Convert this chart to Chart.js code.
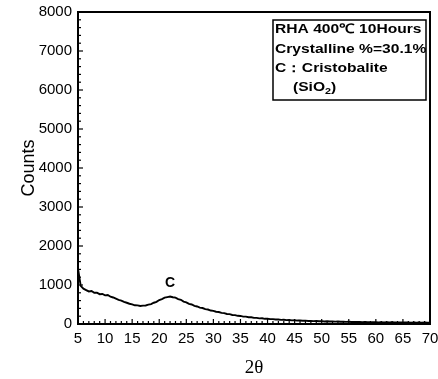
<!DOCTYPE html>
<html><head><meta charset="utf-8">
<script src="https://cdn.jsdelivr.net/npm/chart.js@4"></script>
<style>html,body{margin:0;padding:0;background:#fff}#wrap{width:438px;height:379px}</style>
</head><body><div id="wrap"><canvas id="c" width="438" height="379"></canvas></div>
<script>
const twoTheta = [5,5.5,6,6.5,7,7.5,8,8.5,9,9.5,10,10.5,11,11.5,12,12.5,13,13.5,14,14.5,15,15.5,16,16.5,17,17.5,18,18.5,19,19.5,20,20.5,21,21.5,22,22.5,23,23.5,24,24.5,25,25.5,26,26.5,27,27.5,28,28.5,29,29.5,30,30.5,31,31.5,32,32.5,33,33.5,34,34.5,35,35.5,36,36.5,37,37.5,38,38.5,39,39.5,40,40.5,41,41.5,42,42.5,43,43.5,44,44.5,45,45.5,46,46.5,47,47.5,48,48.5,49,49.5,50,50.5,51,51.5,52,52.5,53,53.5,54,54.5,55,55.5,56,56.5,57,57.5,58,58.5,59,59.5,60,60.5,61,61.5,62,62.5,63,63.5,64,64.5,65,65.5,66,66.5,67,67.5,68,68.5,69,69.5,70];
const counts = [1420,980,905,870,835,845,800,805,765,770,735,745,700,680,650,620,600,565,545,520,505,480,478,462,470,475,495,510,545,570,615,640,675,690,705,685,675,640,620,575,555,515,500,465,450,420,410,380,372,345,338,315,308,285,278,258,252,232,228,210,207,190,188,172,172,158,158,145,146,133,135,124,126,115,117,107,110,100,103,94,97,88,91,83,86,78,81,74,77,70,73,66,70,63,66,60,63,57,60,54,58,52,55,50,53,48,51,46,49,44,47,42,46,41,44,40,43,39,42,38,41,37,40,36,39,35,38,34,37,33,36];
const xTickLabels = [5,10,15,20,25,30,35,40,45,50,55,60,65,70];
const yTickLabels = [0,1000,2000,3000,4000,5000,6000,7000,8000];
const peakLabels = [{x:22, y:1050, text:'C'}];
const infoLines = ['RHA 400℃ 10Hours','Crystalline %=30.1%','C：Cristobalite'];
const formulaParts = ['(SiO','2',')'];

const points = twoTheta.map((t,i)=>({x:t, y:counts[i]}));

const decor = {
  id:'decor',
  afterDatasetsDraw(chart){
    const {ctx, chartArea:a, scales:{x,y}} = chart;
    ctx.save();
    ctx.strokeStyle='#000';
    ctx.lineWidth=1.2;
    for (let v=x.min; v<=x.max+1e-9; v+=1){
      const px=x.getPixelForValue(v);
      const len = (Math.round(v)%5===0)?5:3;
      ctx.beginPath(); ctx.moveTo(px,a.bottom); ctx.lineTo(px,a.bottom-len); ctx.stroke();
    }
    for (let v=y.min; v<=y.max+1e-9; v+=200){
      const py=y.getPixelForValue(v);
      const len = (Math.round(v)%1000===0)?5:3;
      ctx.beginPath(); ctx.moveTo(a.left,py); ctx.lineTo(a.left+len,py); ctx.stroke();
    }
    ctx.lineWidth=2;
    ctx.strokeRect(a.left,a.top,a.right-a.left,a.bottom-a.top);
    ctx.fillStyle='#000';
    ctx.font='bold 14px "Liberation Sans", Arial, sans-serif';
    ctx.textAlign='center'; ctx.textBaseline='middle';
    peakLabels.forEach(p=>ctx.fillText(p.text, x.getPixelForValue(p.x), y.getPixelForValue(p.y)));
    const bl=a.right-157, br=a.right-4, bt=a.top+8, bb=a.top+88;
    ctx.lineWidth=1.5;
    ctx.strokeRect(bl,bt,br-bl,bb-bt);
    ctx.textAlign='left'; ctx.textBaseline='alphabetic';
    const sx=1.2;
    const base=[21,41,60,79];
    infoLines.forEach((t,i)=>{
      ctx.save(); ctx.translate(bl+2, a.top+base[i]); ctx.scale(sx,1);
      ctx.font='bold 13px "Liberation Sans", Arial, sans-serif';
      ctx.fillText(t,0,0); ctx.restore();
    });
    ctx.save(); ctx.translate(bl+20, a.top+base[3]); ctx.scale(sx,1);
    ctx.font='bold 13px "Liberation Sans", Arial, sans-serif';
    let w=ctx.measureText(formulaParts[0]).width;
    ctx.fillText(formulaParts[0],0,0);
    ctx.font='bold 9px "Liberation Sans", Arial, sans-serif';
    ctx.fillText(formulaParts[1],w,3);
    w+=ctx.measureText(formulaParts[1]).width;
    ctx.font='bold 13px "Liberation Sans", Arial, sans-serif';
    ctx.fillText(formulaParts[2],w,0);
    ctx.restore();
    ctx.restore();
  }
};

new Chart(document.getElementById('c'),{
  type:'line',
  data:{datasets:[{data:points, borderColor:'#000', borderWidth:1.9, pointRadius:0, tension:0, fill:false}]},
  options:{
    responsive:false, animation:false,
    layout:{padding:{top:12,right:8,left:0,bottom:0}},
    plugins:{legend:{display:false}, tooltip:{enabled:false}},
    scales:{
      x:{type:'linear', min:5, max:70,
        afterBuildTicks(s){ s.ticks = xTickLabels.map(v=>({value:v})); },
        afterFit(s){ s.height=55; s.paddingLeft=0; s.paddingRight=0; },
        grid:{display:false, drawTicks:false}, border:{display:false},
        ticks:{color:'#000', padding:6, maxRotation:0, autoSkip:false, callback:v=>String(v), font:{family:'"Liberation Sans", Arial', size:15}},
        title:{display:true, text:'2θ', color:'#000', padding:{top:0,bottom:0}, font:{family:'"Liberation Serif", "Times New Roman", serif', size:19}}
      },
      y:{type:'linear', min:0, max:8000,
        afterBuildTicks(s){ s.ticks = yTickLabels.map(v=>({value:v})); },
        afterFit(s){ s.width=78; s.paddingTop=0; s.paddingBottom=0; },
        grid:{display:false, drawTicks:false}, border:{display:false},
        ticks:{color:'#000', padding:6, autoSkip:false, callback:v=>String(v), font:{family:'"Liberation Sans", Arial', size:15}},
        title:{display:true, text:'Counts', color:'#000', padding:{top:18,bottom:0}, font:{family:'"Liberation Sans", Arial', size:18}}
      }
    }
  },
  plugins:[decor]
});
</script></body></html>
